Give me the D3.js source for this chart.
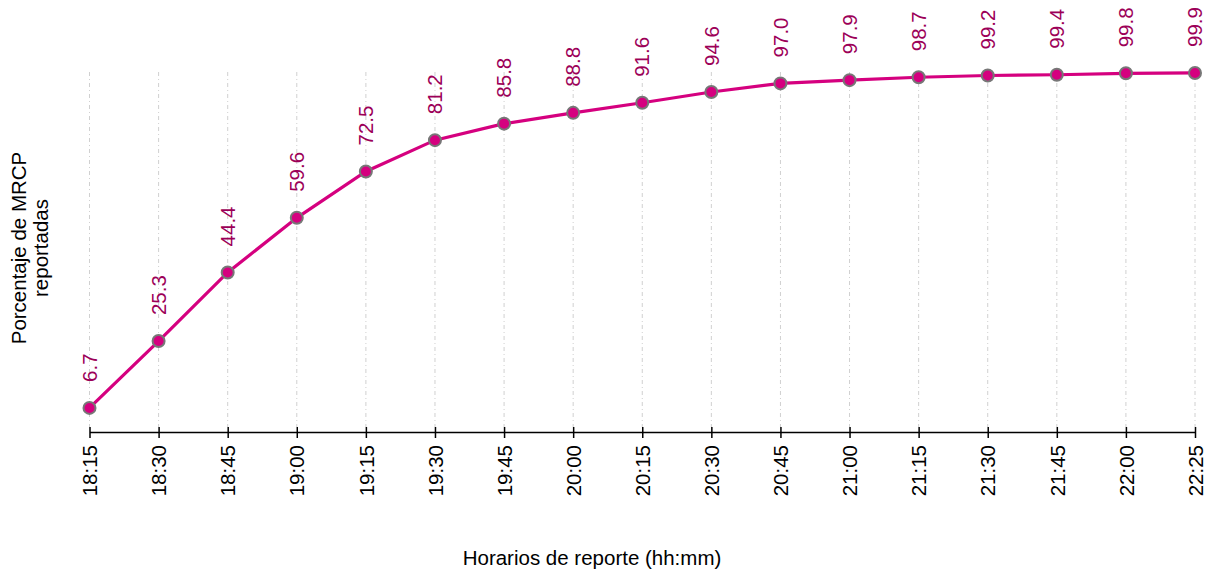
<!DOCTYPE html>
<html><head><meta charset="utf-8">
<script src="https://cdn.jsdelivr.net/npm/d3@7"></script>
<style>body{margin:0;background:#fff}svg{display:block}text{font-family:"Liberation Sans",Arial,sans-serif}</style>
</head><body>
<svg id="c" width="1206" height="569"></svg>
<script>
const categories = ["18:15","18:30","18:45","19:00","19:15","19:30","19:45","20:00","20:15","20:30","20:45","21:00","21:15","21:30","21:45","22:00","22:25"];
const values = [6.7,25.3,44.4,59.6,72.5,81.2,85.8,88.8,91.6,94.6,97.0,97.9,98.7,99.2,99.4,99.8,99.9];
const labels = ["6.7","25.3","44.4","59.6","72.5","81.2","85.8","88.8","91.6","94.6","97.0","97.9","98.7","99.2","99.4","99.8","99.9"];

const FS = 20.5;
const svg = d3.select("#c");
const x = d3.scalePoint().domain(categories).range([89.5, 1195]);
const y = d3.scaleLinear().domain([0,100]).range([432, 72.6]);

// grid
svg.append("g").selectAll("line").data(categories).join("line")
  .attr("x1", d=>x(d)).attr("x2", d=>x(d)).attr("y1", 72).attr("y2", 427)
  .attr("stroke", "#d0d0d0").attr("stroke-width", 1).attr("stroke-dasharray", "4,3,1,3");

// axis
const ax = svg.append("g").attr("transform","translate(0,432)")
  .call(d3.axisBottom(x).tickSizeInner(6).tickSizeOuter(0).tickPadding(8));
ax.select(".domain").attr("stroke","#000").attr("stroke-width",1.5);
ax.selectAll(".tick line").attr("stroke","#000").attr("stroke-width",1.5).attr("y1",-5).attr("y2",6);
ax.selectAll(".tick text").attr("font-size",FS).attr("fill","#000")
  .attr("transform","rotate(-90)").attr("text-anchor","end").attr("dy","0.35em").attr("x",-13).attr("y",0);

// line
const line = d3.line().x((d,i)=>x(categories[i])).y(d=>y(d));
svg.append("path").datum(values).attr("d", line).attr("fill","none")
  .attr("stroke","#d5007f").attr("stroke-width",3.2);

svg.append("g").selectAll("circle").data(values).join("circle")
  .attr("cx",(d,i)=>x(categories[i])).attr("cy",d=>y(d)).attr("r",6)
  .attr("fill","#d5007f").attr("stroke","#777").attr("stroke-width",2);

svg.append("g").selectAll("text").data(values).join("text")
  .attr("transform",(d,i)=>`translate(${x(categories[i])},${y(d)-26}) rotate(-90)`)
  .attr("dy","0.35em").attr("text-anchor","start").attr("font-size",FS).attr("fill","#9c0058")
  .text((d,i)=>labels[i]);

// titles
svg.append("text").attr("x",592).attr("y",565).attr("text-anchor","middle").attr("font-size",FS).attr("fill","#000")
  .text("Horarios de reporte (hh:mm)");
const yt = svg.append("text").attr("transform","translate(0,248) rotate(-90)").attr("text-anchor","middle").attr("font-size",FS).attr("fill","#000");
yt.append("tspan").attr("x",0).attr("y",26).text("Porcentaje de MRCP");
yt.append("tspan").attr("x",0).attr("y",48).text("reportadas");
</script>
</body></html>
